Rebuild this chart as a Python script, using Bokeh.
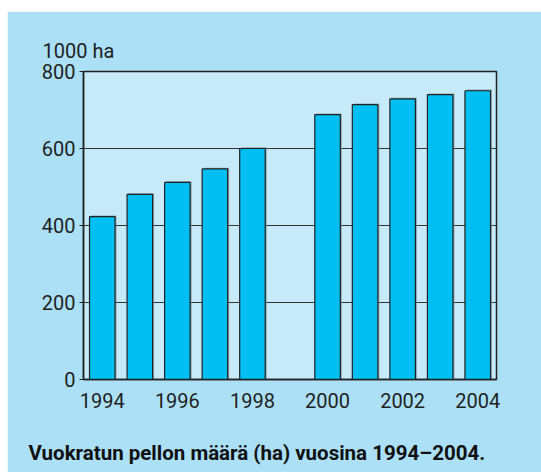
from bokeh.plotting import figure
from bokeh.models import Range1d, FixedTicker, Title, ColumnDataSource, Spacer
from bokeh.layouts import row, column
from bokeh.embed import file_html
from bokeh.resources import INLINE

years = [1994, 1995, 1996, 1997, 1998, 2000, 2001, 2002, 2003, 2004]
values = [423, 481, 512, 547, 600, 688, 714, 729, 740, 750]
x_ticks = [1994, 1996, 1998, 2000, 2002, 2004]
y_ticks = [0, 200, 400, 600, 800]
unit_label = "1000 ha"
caption = "Vuokratun pellon määrä (ha) vuosina 1994–2004."

FONT = "Roboto"
OUTER = "#ABE0F7"
INNER = "#C7EAF9"
BAR = "#00BFF2"
DARK = "#222222"

p = figure(width=534, height=461, output_backend="svg", toolbar_location=None,
           x_range=Range1d(1993.5, 2004.5), y_range=Range1d(0, 800),
           min_border_left=76, min_border_right=45, min_border_top=60, min_border_bottom=93)
p.background_fill_color = INNER
p.border_fill_color = OUTER
p.outline_line_color = DARK
p.outline_line_width = 1.5

src = ColumnDataSource(dict(x=years, top=values))
shadow_src = ColumnDataSource(dict(x=[y + 0.04 for y in years], top=[v + 3 for v in values]))

p.xgrid.visible = False
p.ygrid.ticker = FixedTicker(ticks=y_ticks)
p.ygrid.grid_line_color = "#333333"
p.ygrid.grid_line_width = 1.2

p.vbar(x="x", top="top", width=0.68, bottom=0, source=shadow_src,
       fill_color="#6f8a94", line_color=None, fill_alpha=0.7)
p.vbar(x="x", top="top", width=0.68, bottom=0, source=src,
       fill_color=BAR, line_color=DARK, line_width=1.2)

xa = p.xaxis[0]
xa.ticker = FixedTicker(ticks=x_ticks)
xa.major_tick_line_color = None
xa.minor_tick_line_color = None
xa.axis_line_color = DARK
xa.axis_line_width = 1.5
xa.major_label_text_font = FONT
xa.major_label_text_font_size = "20px"
xa.major_label_text_color = DARK
xa.major_label_standoff = 7

ya = p.yaxis[0]
ya.ticker = FixedTicker(ticks=y_ticks)
ya.major_tick_out = 4
ya.major_tick_in = 0
ya.major_tick_line_color = DARK
ya.minor_tick_line_color = None
ya.axis_line_color = DARK
ya.axis_line_width = 1.5
ya.major_label_text_font = FONT
ya.major_label_text_font_size = "20px"
ya.major_label_text_color = DARK
ya.major_label_standoff = 4

p.add_layout(Title(text=unit_label, align="left", offset=-41, standoff=18,
                   text_font=FONT, text_font_size="20px", text_font_style="normal",
                   text_color=DARK), "above")
# empty spacer title between the axis and the caption
p.add_layout(Title(text=" ", standoff=25, text_font_size="1px"), "below")
p.add_layout(Title(text=caption, align="left", offset=-55, standoff=0,
                   text_font=FONT, text_font_size="20.5px", text_font_style="bold",
                   text_color="#111111"), "below")

layout = row(Spacer(width=7), column(Spacer(height=11), p))
open("out.html", "w").write(file_html(layout, INLINE))
